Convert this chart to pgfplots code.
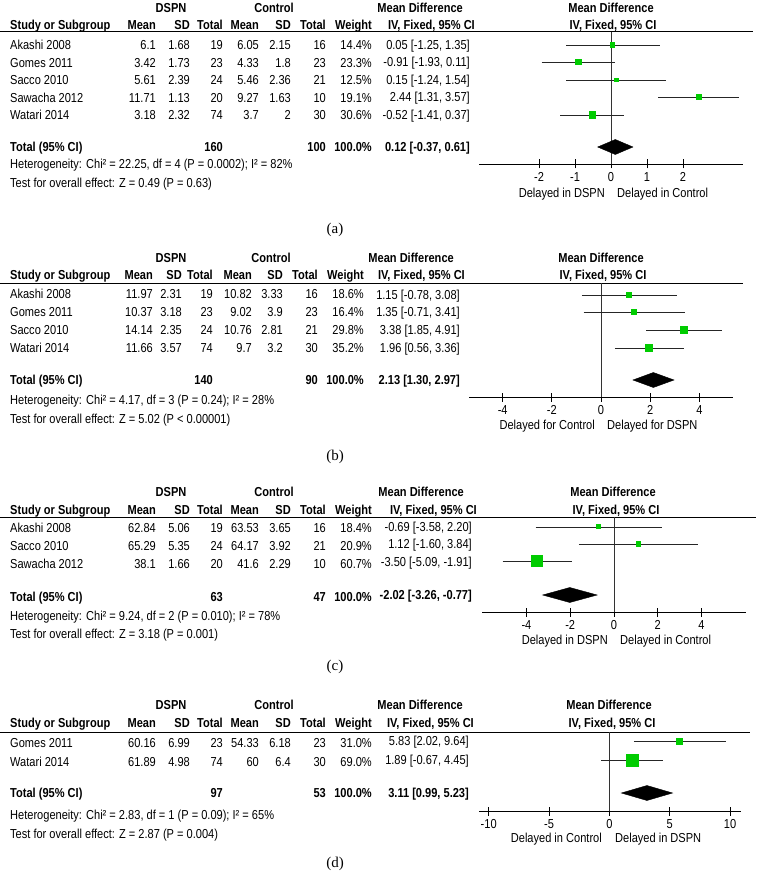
\documentclass[border=0pt]{standalone}
\usepackage{pgfplots}
\pgfplotsset{compat=1.18}
\usepackage{fontspec}
\setmainfont{Liberation Sans}[FakeStretch=0.85]
\newfontfamily\capfont{Liberation Serif}
\definecolor{sqgreen}{RGB}{0,204,0}
\newcommand\fs{\fontsize{13}{15}\selectfont}
\tikzset{
  L/.style={anchor=base west,inner sep=0pt,font=\fs},
  R/.style={anchor=base east,inner sep=0pt,font=\fs},
  C/.style={anchor=base,inner sep=0pt,font=\fs},
  LB/.style={anchor=base west,inner sep=0pt,font=\fs\bfseries},
  RB/.style={anchor=base east,inner sep=0pt,font=\fs\bfseries},
  CB/.style={anchor=base,inner sep=0pt,font=\fs\bfseries},
}
\pgfplotsset{
  fp/.style={scale only axis, anchor=south west, axis y line=none, axis x line*=bottom,
    clip=false, tick align=center, major tick length=9pt,
    x axis line style={line width=0.8pt,-}, xtick style={line width=0.8pt,black},
    ticklabel style={font=\fs}, /pgf/number format/assume math mode=true,
    xticklabel style={yshift=-0.5pt}, ytick=\empty},
  ci/.style={black!85, line width=0.8pt, mark=none},
  sq/.style={only marks, mark=square*, mark options={draw=sqgreen, fill=sqgreen, line width=0pt}},
  dia/.style={fill=black, draw=black, mark=none, line width=0.4pt},
}
\newcommand\setcols[7]{\def\cMa{#1}\def\cSa{#2}\def\cTa{#3}\def\cMb{#4}\def\cSb{#5}\def\cTb{#6}\def\cW{#7}}
\newcommand\trow[9]{%
  \node[L] at (10,{#1+4.7}) {#2};
  \node[R] at (\cMa,{#1+4.7}) {#3};
  \node[R] at (\cSa,{#1+4.7}) {#4};
  \node[R] at (\cTa,{#1+4.7}) {#5};
  \node[R] at (\cMb,{#1+4.7}) {#6};
  \node[R] at (\cSb,{#1+4.7}) {#7};
  \node[R] at (\cTb,{#1+4.7}) {#8};
  \node[R] at (\cW,{#1+4.7}) {#9};}
% y1, y2, dspnX, controlX, md1R, md2R, plotX1, plotX2
\newcommand\thead[8]{%
  \node[CB] at (#3,{#1+4.7}) {DSPN};
  \node[CB] at (#4,{#1+4.7}) {Control};
  \node[RB] at (#5,{#1+4.7}) {Mean Difference};
  \node[CB] at (#7,{#1+4.7}) {Mean Difference};
  \node[LB] at (10,{#2+4.7}) {Study or Subgroup};
  \node[RB] at (\cMa,{#2+4.7}) {Mean};
  \node[RB] at (\cSa,{#2+4.7}) {SD};
  \node[RB] at (\cTa,{#2+4.7}) {Total};
  \node[RB] at (\cMb,{#2+4.7}) {Mean};
  \node[RB] at (\cSb,{#2+4.7}) {SD};
  \node[RB] at (\cTb,{#2+4.7}) {Total};
  \node[RB] at (\cW,{#2+4.7}) {Weight};
  \node[RB] at (#6,{#2+4.7}) {IV, Fixed, 95\% CI};
  \node[CB] at (#8,{#2+4.7}) {IV, Fixed, 95\% CI};}
\newcommand\capt[3]{\node[font=\capfont\fontsize{15}{17}\selectfont] at (#1,#2) {#3};}
\begin{document}
\begin{tikzpicture}[x=1pt,y=-1pt]
\useasboundingbox[fill=white] (0,0) rectangle (756,885);

% ================= (a) =================
\setcols{156}{190}{223}{259}{291}{326}{372}
\thead{8}{25}{171}{274}{463}{475}{611}{613}
\draw[line width=1pt] (0,32) -- (753,32);
\trow{45}{Akashi 2008}{6.1}{1.68}{19}{6.05}{2.15}{16}{14.4\%}
\trow{63}{Gomes 2011}{3.42}{1.73}{23}{4.33}{1.8}{23}{23.3\%}
\trow{80}{Sacco 2010}{5.61}{2.39}{24}{5.46}{2.36}{21}{12.5\%}
\trow{98}{Sawacha 2012}{11.71}{1.13}{20}{9.27}{1.63}{10}{19.1\%}
\trow{115}{Watari 2014}{3.18}{2.32}{74}{3.7}{2}{30}{30.6\%}
\node[R] at (470,49.7) {0.05 [-1.25, 1.35]};
\node[R] at (470,66.7) {-0.91 [-1.93, 0.11]};
\node[R] at (470,84.7) {0.15 [-1.24, 1.54]};
\node[R] at (470,101.7) {2.44 [1.31, 3.57]};
\node[R] at (470,119.7) {-0.52 [-1.41, 0.37]};
\node[LB] at (10,151.7) {Total (95\% CI)};
\node[RB] at (\cTa,151.7) {160};
\node[RB] at (\cTb,151.7) {100};
\node[RB] at (\cW,151.7) {100.0\%};
\node[RB] at (470,151.7) {0.12 [-0.37, 0.61]};
\node[L] at (10,168.7) {Heterogeneity: Chi² = 22.25, df = 4 (P = 0.0002); I² = 82\%};
\node[L] at (10,187.7) {Test for overall effect: Z = 0.49 (P = 0.63)};
\node[R] at (605,197.7) {Delayed in DSPN};
\node[L] at (617,197.7) {Delayed in Control};
\begin{axis}[fp, at={(479pt,-164pt)}, width=264pt, height=132pt,
  xmin=-3.67, xmax=3.67, ymin=-164, ymax=-32, xtick={-2,-1,0,1,2}]
\addplot[black!80, line width=0.8pt] coordinates {(0,-32) (0,-164)};
\addplot[ci] coordinates {(-1.25,-45) (1.35,-45)};
\addplot[ci] coordinates {(-1.93,-62) (0.11,-62)};
\addplot[ci] coordinates {(-1.24,-80) (1.54,-80)};
\addplot[ci] coordinates {(1.31,-97) (3.57,-97)};
\addplot[ci] coordinates {(-1.41,-115) (0.37,-115)};
\addplot[sq, mark size=2.1pt] coordinates {(0.05,-45)};
\addplot[sq, mark size=2.9pt] coordinates {(-0.91,-62)};
\addplot[sq, mark size=1.9pt] coordinates {(0.15,-80)};
\addplot[sq, mark size=2.4pt] coordinates {(2.44,-97)};
\addplot[sq, mark size=3.3pt] coordinates {(-0.52,-115)};
\addplot[dia] coordinates {(-0.37,-147) (0.12,-139.5) (0.61,-147) (0.12,-154.5)} -- cycle;
\end{axis}
\capt{335}{230}{(a)}

% ================= (b) =================
\setcols{153}{182}{213}{252}{283}{318}{364}
\thead{258}{275}{171}{271}{454}{465}{601}{603}
\draw[line width=1pt] (0,283) -- (743,283);
\trow{294}{Akashi 2008}{11.97}{2.31}{19}{10.82}{3.33}{16}{18.6\%}
\trow{312}{Gomes 2011}{10.37}{3.18}{23}{9.02}{3.9}{23}{16.4\%}
\trow{330}{Sacco 2010}{14.14}{2.35}{24}{10.76}{2.81}{21}{29.8\%}
\trow{348}{Watari 2014}{11.66}{3.57}{74}{9.7}{3.2}{30}{35.2\%}
\node[R] at (460,299.7) {1.15 [-0.78, 3.08]};
\node[R] at (460,316.7) {1.35 [-0.71, 3.41]};
\node[R] at (460,334.7) {3.38 [1.85, 4.91]};
\node[R] at (460,352.7) {1.96 [0.56, 3.36]};
\node[LB] at (10,384.7) {Total (95\% CI)};
\node[RB] at (\cTa,384.7) {140};
\node[RB] at (\cTb,384.7) {90};
\node[RB] at (\cW,384.7) {100.0\%};
\node[RB] at (460,384.7) {2.13 [1.30, 2.97]};
\node[L] at (10,404.7) {Heterogeneity: Chi² = 4.17, df = 3 (P = 0.24); I² = 28\%};
\node[L] at (10,423.7) {Test for overall effect: Z = 5.02 (P < 0.00001)};
\node[R] at (595,429.7) {Delayed for Control};
\node[L] at (607,429.7) {Delayed for DSPN};
\begin{axis}[fp, at={(469pt,-397pt)}, width=264pt, height=114pt,
  xmin=-5.37, xmax=5.37, ymin=-397, ymax=-283, xtick={-4,-2,0,2,4}]
\addplot[black!80, line width=0.8pt] coordinates {(0,-283) (0,-397)};
\addplot[ci] coordinates {(-0.78,-295) (3.08,-295)};
\addplot[ci] coordinates {(-0.71,-312) (3.41,-312)};
\addplot[ci] coordinates {(1.85,-330) (4.91,-330)};
\addplot[ci] coordinates {(0.56,-348) (3.36,-348)};
\addplot[sq, mark size=2.3pt] coordinates {(1.15,-295)};
\addplot[sq, mark size=2.2pt] coordinates {(1.35,-312)};
\addplot[sq, mark size=3.3pt] coordinates {(3.38,-330)};
\addplot[sq, mark size=3.6pt] coordinates {(1.96,-348)};
\addplot[dia] coordinates {(1.30,-380) (2.13,-372.5) (2.97,-380) (2.13,-387.5)} -- cycle;
\end{axis}
\capt{335}{457}{(b)}

% ================= (c) =================
\setcols{156}{190}{223}{259}{291}{326}{372}
\thead{492}{510}{171}{274}{464}{477}{613}{616}
\draw[line width=1pt] (0,517) -- (756,517);
\trow{528}{Akashi 2008}{62.84}{5.06}{19}{63.53}{3.65}{16}{18.4\%}
\trow{546}{Sacco 2010}{65.29}{5.35}{24}{64.17}{3.92}{21}{20.9\%}
\trow{564}{Sawacha 2012}{38.1}{1.66}{20}{41.6}{2.29}{10}{60.7\%}
\node[R] at (472,531.7) {-0.69 [-3.58, 2.20]};
\node[R] at (472,548.7) {1.12 [-1.60, 3.84]};
\node[R] at (472,566.7) {-3.50 [-5.09, -1.91]};
\node[LB] at (10,601.7) {Total (95\% CI)};
\node[RB] at (\cTa,601.7) {63};
\node[RB] at (\cTb,601.7) {47};
\node[RB] at (\cW,601.7) {100.0\%};
\node[RB] at (472,599.7) {-2.02 [-3.26, -0.77]};
\node[L] at (10,620.7) {Heterogeneity: Chi² = 9.24, df = 2 (P = 0.010); I² = 78\%};
\node[L] at (10,638.7) {Test for overall effect: Z = 3.18 (P = 0.001)};
\node[R] at (608,644.7) {Delayed in DSPN};
\node[L] at (620,644.7) {Delayed in Control};
\begin{axis}[fp, at={(482pt,-612pt)}, width=264pt, height=95pt,
  xmin=-6.03, xmax=6.03, ymin=-612, ymax=-517, xtick={-4,-2,0,2,4}]
\addplot[black!80, line width=0.8pt] coordinates {(0,-517) (0,-612)};
\addplot[ci] coordinates {(-3.58,-527) (2.20,-527)};
\addplot[ci] coordinates {(-1.60,-544) (3.84,-544)};
\addplot[ci] coordinates {(-5.09,-561) (-1.91,-561)};
\addplot[sq, mark size=2.0pt] coordinates {(-0.69,-527)};
\addplot[sq, mark size=2.4pt] coordinates {(1.12,-544)};
\addplot[sq, mark size=5.6pt] coordinates {(-3.50,-561)};
\addplot[dia] coordinates {(-3.26,-595) (-2.02,-587.5) (-0.77,-595) (-2.02,-602.5)} -- cycle;
\end{axis}
\capt{335}{667}{(c)}

% ================= (d) =================
\setcols{156}{190}{223}{259}{291}{326}{372}
\thead{705}{723}{171}{274}{463}{474}{609}{612}
\draw[line width=1pt] (0,732) -- (750,732);
\trow{743}{Gomes 2011}{60.16}{6.99}{23}{54.33}{6.18}{23}{31.0\%}
\trow{762}{Watari 2014}{61.89}{4.98}{74}{60}{6.4}{30}{69.0\%}
\node[R] at (469,745.7) {5.83 [2.02, 9.64]};
\node[R] at (469,764.7) {1.89 [-0.67, 4.45]};
\node[LB] at (10,797.7) {Total (95\% CI)};
\node[RB] at (\cTa,797.7) {97};
\node[RB] at (\cTb,797.7) {53};
\node[RB] at (\cW,797.7) {100.0\%};
\node[RB] at (469,797.7) {3.11 [0.99, 5.23]};
\node[L] at (10,819.7) {Heterogeneity: Chi² = 2.83, df = 1 (P = 0.09); I² = 65\%};
\node[L] at (10,838.7) {Test for overall effect: Z = 2.87 (P = 0.004)};
\node[R] at (602,842.7) {Delayed in Control};
\node[L] at (615,842.7) {Delayed in DSPN};
\begin{axis}[fp, at={(479pt,-811pt)}, width=262pt, height=79pt,
  xmin=-10.8, xmax=10.9, ymin=-811, ymax=-732, xtick={-10,-5,0,5,10}]
\addplot[black!80, line width=0.8pt] coordinates {(0,-732) (0,-811)};
\addplot[ci] coordinates {(2.02,-741) (9.64,-741)};
\addplot[ci] coordinates {(-0.67,-760) (4.45,-760)};
\addplot[sq, mark size=3.0pt] coordinates {(5.83,-741)};
\addplot[sq, mark size=6.0pt] coordinates {(1.89,-760)};
\addplot[dia] coordinates {(0.99,-793) (3.11,-785.5) (5.23,-793) (3.11,-800.5)} -- cycle;
\end{axis}
\capt{335}{864}{(d)}
\end{tikzpicture}
\end{document}
